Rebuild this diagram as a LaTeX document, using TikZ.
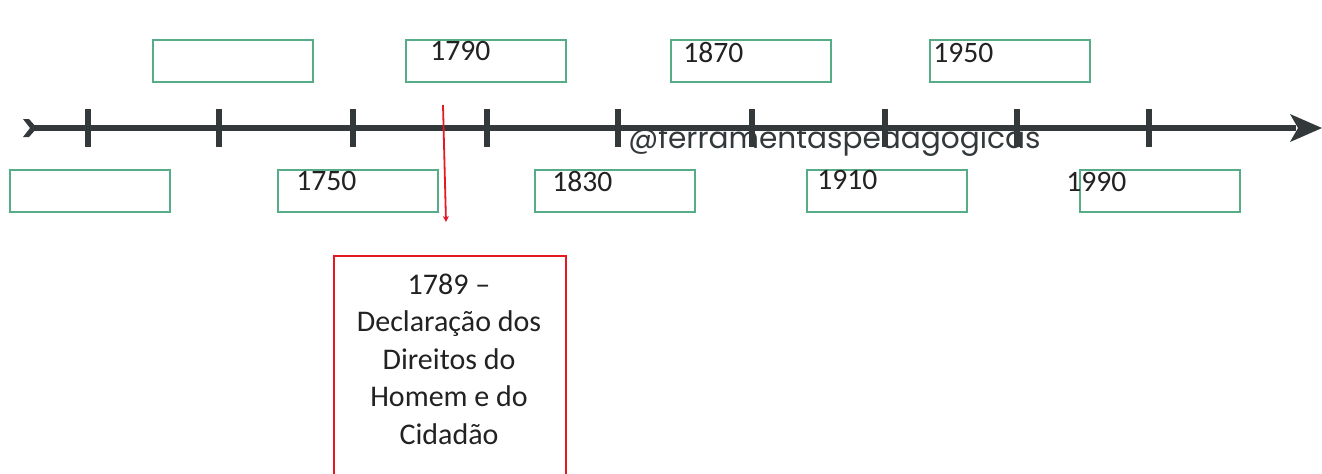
\documentclass[tikz,border=0pt]{standalone}
\usepackage{fontspec}
\setmainfont{Carlito}
\newfontfamily\wmfont{Poppins}
\usetikzlibrary{arrows.meta}
\definecolor{lineclr}{RGB}{51,57,59}
\definecolor{boxgreen}{RGB}{86,172,134}
\definecolor{redclr}{RGB}{230,25,35}
\definecolor{txt}{RGB}{34,34,34}
\tikzset{
  yearbox/.style={draw=boxgreen, line width=0.9pt, minimum width=80pt, minimum height=21pt, inner sep=0pt},
  yeartxt/.style={anchor=base west, inner sep=0pt, font=\fontsize{14.8}{16}\selectfont, text=txt},
  tickmark/.style={draw=lineclr, line width=2.6pt},
}
\begin{document}
\begin{tikzpicture}[x=0.5pt,y=-0.5pt]
\useasboundingbox (0,0) rectangle (1322,473);
% timeline
\coordinate (tl) at (30,128);
\coordinate (tr) at (1296,128);
\draw[lineclr, line width=2.6pt] (tl) -- (tr);
\fill[lineclr] (23,119) -- (29,119) -- (37,128) -- (29,137) -- (23,137) -- (30,128) -- cycle;
\fill[lineclr] (1322,128) -- (1290,114) -- (1298,128) -- (1290,142) -- cycle;
\foreach \x in {88,219,353,487,618,752,885,1017,1149}
  \draw[tickmark] (\x,109) -- (\x,147);
% watermark
\node[anchor=base west, inner sep=0pt, font=\wmfont\fontsize{14.8}{16}\selectfont, text=lineclr] (wm) at (628,148) {@ferramentaspedagogicas};
% top boxes
\node[yearbox] (b1) at (233,61) {};
\node[yearbox] (b3) at (486,61) {};
\node[yearbox] (b5) at (751,61) {};
\node[yearbox] (b7) at (1010,61) {};
% bottom boxes
\node[yearbox] (b0) at (90,191) {};
\node[yearbox] (b2) at (358,191) {};
\node[yearbox] (b4) at (615,191) {};
\node[yearbox] (b6) at (887,191) {};
\node[yearbox] (b8) at (1160,191) {};
% years
\node[yeartxt] (y1790) at (430,60) {1790};
\node[yeartxt] (y1870) at (683,62) {1870};
\node[yeartxt] (y1950) at (933,62) {1950};
\node[yeartxt] (y1750) at (296,190) {1750};
\node[yeartxt] (y1830) at (552,191) {1830};
\node[yeartxt] (y1910) at (817,189) {1910};
\node[yeartxt] (y1990) at (1066,191) {1990};
% red marker
\coordinate (rtop) at (443,105);
\coordinate (rbot) at (446,222);
\draw[redclr, line width=0.9pt, -{Stealth[length=3pt,width=3pt]}] (rtop) -- (rbot);
\node[draw=redclr, line width=1.2pt, anchor=north west, minimum width=116pt, minimum height=115pt, inner sep=0pt] (redbox) at (333,255) {};
\node[align=center, inner sep=0pt, text=txt, font=\fontsize{15}{18.75}\selectfont] (redtxt) at (449,359) {1789 --\\Declaração dos\\Direitos do\\Homem e do\\Cidadão};
\end{tikzpicture}
\end{document}
